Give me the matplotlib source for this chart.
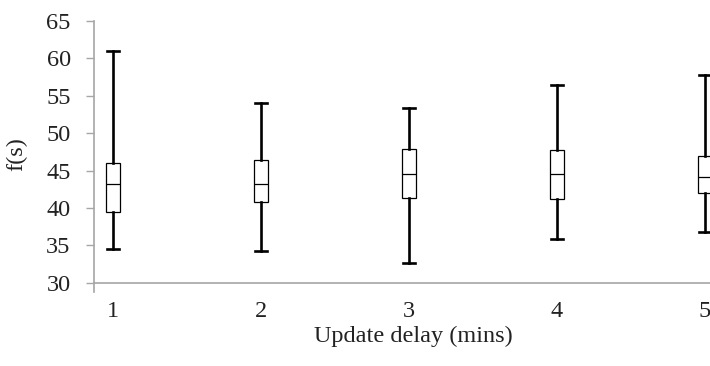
import matplotlib
matplotlib.use('Agg')
import matplotlib.pyplot as plt
import matplotlib.transforms as mtransforms

# Box plot values: one entry per update delay
delays = [1, 2, 3, 4, 5]
whisker_low = [34.5, 34.2, 32.6, 35.8, 36.8]
q1 = [39.5, 40.8, 41.3, 41.2, 42.0]
median = [43.2, 43.2, 44.5, 44.5, 44.2]
q3 = [46.0, 46.4, 47.9, 47.7, 46.9]
whisker_high = [61.0, 54.0, 53.3, 56.5, 57.8]

plt.rcParams['font.family'] = ['Liberation Serif', 'DejaVu Serif']
plt.rcParams['font.size'] = 17.5

fig = plt.figure(figsize=(7.10, 3.66), dpi=100)
ax = fig.add_axes([0.1324, 0.2276, 0.8676, 0.715])

stats = []
for d, lo, a, m, b, hi in zip(delays, whisker_low, q1, median, q3, whisker_high):
	stats.append({'label': str(d), 'whislo': lo, 'q1': a, 'med': m, 'q3': b, 'whishi': hi, 'fliers': []})

ax.bxp(stats, positions=delays, widths=0.097, capwidths=0.082, patch_artist=True,
	boxprops=dict(facecolor='white', edgecolor='black', linewidth=0.9),
	medianprops=dict(color='black', linewidth=0.9),
	whiskerprops=dict(color='black', linewidth=1.9),
	capprops=dict(color='black', linewidth=1.9),
	showfliers=False, zorder=3)

ax.set_xlim(0.872, 5.034)
ax.set_ylim(30, 65)
ax.set_yticks(range(30, 66, 5))
ax.set_xticks(delays)
ax.set_xticklabels([str(d) for d in delays])

# Axis styling (light gray lines, no frame on top/right)
for side in ['top', 'right']:
	ax.spines[side].set_visible(False)
for side in ['left', 'bottom']:
	ax.spines[side].set_color('#a6a6a6')
	ax.spines[side].set_linewidth(1.2)
ax.tick_params(axis='y', direction='out', length=5.8, width=1.0, color='#a6a6a6', pad=11, labelcolor='#222222')
ax.tick_params(axis='x', length=0, pad=13, labelcolor='#222222')

# Small stub of the y axis below the category axis
trans = mtransforms.blended_transform_factory(ax.transAxes, ax.transAxes)
ax.plot([0, 0], [0, -0.035], transform=trans, color='#a6a6a6', linewidth=1.2, clip_on=False)

ax.set_ylabel('f(s)', color='#222222', va='center')
ax.yaxis.set_label_coords(-0.125, 0.49)
ax.set_xlabel('Update delay (mins)', color='#222222', va='center')
ax.xaxis.set_label_coords(0.518, -0.204)

plt.savefig('out.png', dpi=100)
